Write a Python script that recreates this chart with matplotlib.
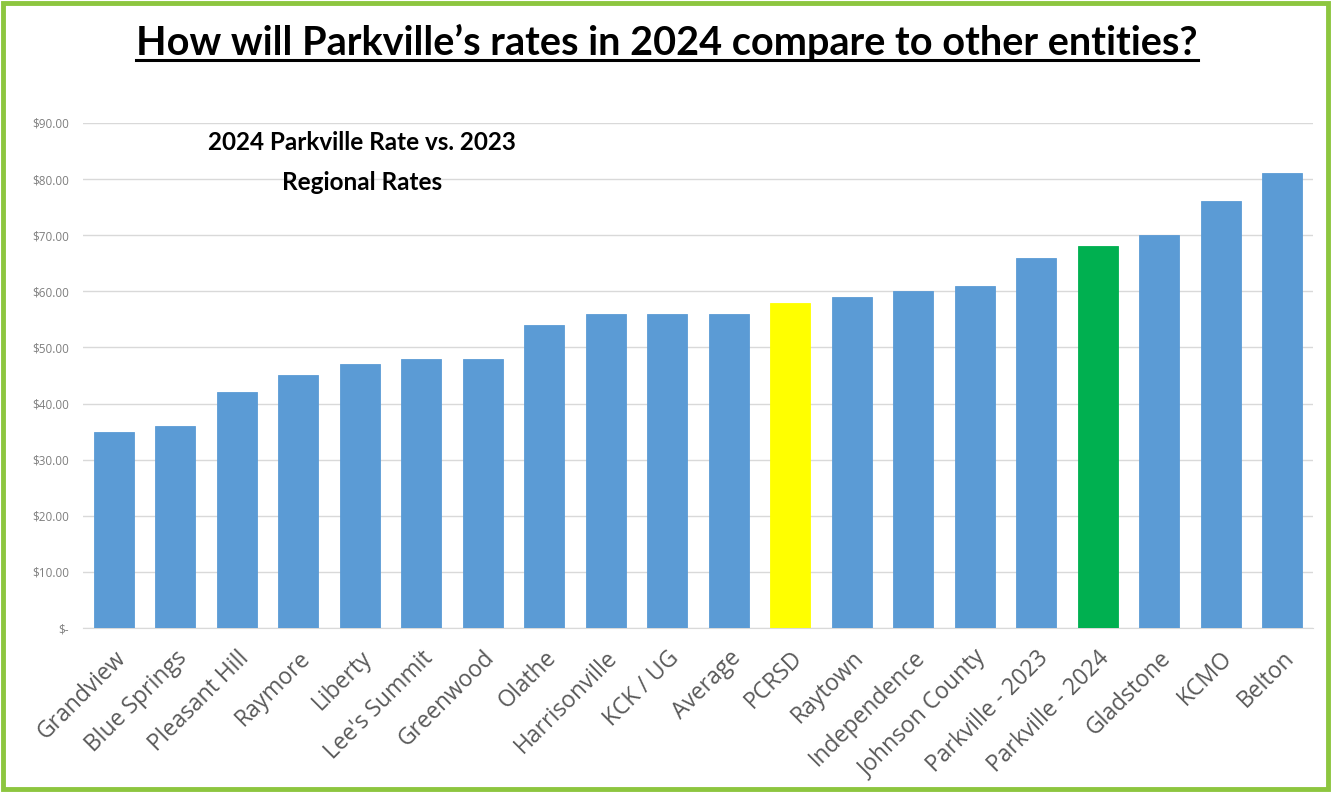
import matplotlib
matplotlib.use("Agg")
import matplotlib.pyplot as plt
from matplotlib.patches import Rectangle
from matplotlib.lines import Line2D
from matplotlib.ticker import FuncFormatter

# 2023 regional monthly sewer rates vs Parkville 2024
entities = ["Grandview", "Blue Springs", "Pleasant Hill", "Raymore", "Liberty",
            "Lee's Summit", "Greenwood", "Olathe", "Harrisonville", "KCK / UG",
            "Average", "PCRSD", "Raytown", "Independence", "Johnson County",
            "Parkville - 2023", "Parkville - 2024", "Gladstone", "KCMO", "Belton"]
rates = [35, 36, 42, 45, 47, 48, 48, 54, 56, 56,
         56, 58, 59, 60, 61, 66, 68, 70, 76, 81]
highlight = {"PCRSD": "#FFFF00", "Parkville - 2024": "#00B050"}
BLUE = "#5B9BD5"
BORDER = "#8DC63F"

fig = plt.figure(figsize=(13.31, 7.92), dpi=100)
ax = fig.add_axes([0.0624, 0.207, 0.924, 0.6378])

colors = [highlight.get(e, BLUE) for e in entities]
x = range(len(entities))
ax.bar(x, rates, width=0.65, color=colors, edgecolor=colors, linewidth=0.6, zorder=3)

ax.set_xlim(-0.5, len(entities) - 0.5)
ax.set_ylim(0, 90)
ax.set_yticks(range(0, 91, 10))
ax.yaxis.set_major_formatter(FuncFormatter(lambda v, _: "$-" if v == 0 else f"${v:,.2f}"))
ax.grid(axis="y", color="#D9D9D9", linewidth=1.0, zorder=0)
for s in ("top", "right", "left"):
    ax.spines[s].set_visible(False)
ax.spines["bottom"].set_color("#D9D9D9")
ax.tick_params(axis="both", length=0)
ax.tick_params(axis="y", labelsize=8.5, labelcolor="#7F7F7F", pad=10)
ax.set_xticks(list(x))
ax.set_xticklabels(entities, rotation=45, ha="right", rotation_mode="anchor",
                   fontsize=16.5, color="#595959", family="Open Sans")
for lab in ax.get_yticklabels():
    lab.set_family("Open Sans")
ax.tick_params(axis="x", pad=13)

# chart caption inside the plot area
ax.text(0.2268, 0.962, "2024 Parkville Rate vs. 2023", transform=ax.transAxes,
        ha="center", va="center", fontsize=17.5, fontweight="bold", family="Lato")
ax.text(0.2268, 0.882, "Regional Rates", transform=ax.transAxes,
        ha="center", va="center", fontsize=17.5, fontweight="bold", family="Lato")

# slide title, underlined
title = fig.text(0.501, 0.930, "How will Parkville\u2019s rates in 2024 compare to other entities?",
                 ha="center", va="baseline", fontsize=28.5, fontweight="bold", family="Lato")
fig.canvas.draw()
bb = title.get_window_extent().transformed(fig.transFigure.inverted())
uy = 0.930 - 0.0055
fig.add_artist(Line2D([bb.x0, bb.x1], [uy, uy], color="black", linewidth=2.2,
                      transform=fig.transFigure))

# green frame around the slide
fig.add_artist(Rectangle((0.0025, 0.004), 0.995, 0.992, transform=fig.transFigure,
                         fill=False, edgecolor=BORDER, linewidth=3.5))

fig.savefig("out.png", dpi=100)
